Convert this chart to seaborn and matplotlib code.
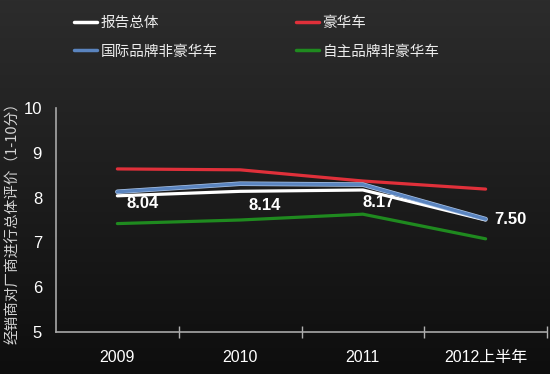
import numpy as np
import pandas as pd
import matplotlib
matplotlib.use("Agg")
import matplotlib.pyplot as plt
import matplotlib.patheffects as pe
import seaborn as sns
from matplotlib.lines import Line2D

categories = ["2009", "2010", "2011", "2012上半年"]
overall = [8.04, 8.14, 8.17, 7.50]
luxury = [8.64, 8.62, 8.37, 8.19]
intl_nonlux = [8.13, 8.31, 8.29, 7.52]
domestic_nonlux = [7.42, 7.50, 7.63, 7.08]
series_names = ["报告总体", "豪华车", "国际品牌非豪华车", "自主品牌非豪华车"]
label_values = overall
y_ticks = [5, 6, 7, 8, 9, 10]
y_label = "经销商对厂商进行总体评价（1-10分）"

sns.set_theme(style="dark")
cjk = ["Noto Sans CJK SC", "DejaVu Sans"]
num_cjk = ["Liberation Sans", "Noto Sans CJK SC"]
plt.rcParams["font.family"] = cjk

df = pd.DataFrame({
    "cat": categories * 4,
    "x": list(range(len(categories))) * 4,
    "value": overall + luxury + intl_nonlux + domestic_nonlux,
    "series": sum([[s] * len(categories) for s in series_names], []),
})

W, H = 550, 374
fig = plt.figure(figsize=(W / 100, H / 100), dpi=100)

# gradient background
bg = fig.add_axes([0, 0, 1, 1], zorder=-10)
grad = np.linspace(0, 1, 256).reshape(-1, 1)
top = np.array([0x2c, 0x2c, 0x2c]) / 255
bot = np.array([0x0e, 0x0e, 0x0e]) / 255
img = top[None, None, :] * (1 - grad[:, :, None]) + bot[None, None, :] * grad[:, :, None]
bg.imshow(img, aspect="auto", extent=[0, 1, 0, 1])
bg.set_axis_off()

ax = fig.add_axes([56 / W, 1 - 332 / H, (547 - 56) / W, (332 - 108) / H])
ax.set_facecolor("none")

palette = {
    "报告总体": "#ffffff",
    "豪华车": "#e0303a",
    "国际品牌非豪华车": "#5a84bf",
    "自主品牌非豪华车": "#1f8a1f",
}
draw_order = ["豪华车", "自主品牌非豪华车", "报告总体", "国际品牌非豪华车"]
for name in draw_order:
    sub = df[df["series"] == name]
    lw = 2.3
    effects = None
    if name == "国际品牌非豪华车":
        effects = [pe.Stroke(linewidth=3.3, foreground="#a9c3e6"), pe.Normal()]
    sns.lineplot(data=sub, x="x", y="value", color=palette[name], linewidth=lw,
                 ax=ax, legend=False, path_effects=effects)

ax.set_xlim(-0.5, len(categories) - 0.5)
ax.set_ylim(5, 10)
ax.set_yticks(y_ticks)
ax.set_yticklabels([str(t) for t in y_ticks], color="white", fontsize=12,
                   family="Liberation Sans")
ax.set_xticks(range(len(categories)))
ax.set_xticklabels(categories, color="white", fontsize=11.5, family=num_cjk)
ax.set_xticks(np.arange(0.5, len(categories), 1.0), minor=True)
ax.tick_params(axis="x", which="major", length=0, pad=13)
ax.tick_params(axis="x", which="minor", length=8, direction="inout",
               color="#b0b0b0", width=1, bottom=True)
ax.tick_params(axis="y", length=0, pad=10)
ax.set_xlabel("")
ax.set_ylabel(y_label, color="#d4d4d4", fontsize=10.5)
ax.yaxis.set_label_coords((20 - 56) / (547 - 56), 0.5)
ax.grid(False)
for s in ["top", "right"]:
    ax.spines[s].set_visible(False)
for s in ["left", "bottom"]:
    ax.spines[s].set_visible(True)
    ax.spines[s].set_color("#a8a8a8")
    ax.spines[s].set_linewidth(1.2)

offsets = [(9, -8), (8, -14), (0, -13), (9, 0)]
for i, v in enumerate(label_values):
    ax.annotate(f"{v:.2f}", (i, v), xytext=offsets[i], textcoords="offset pixels",
                ha="left", va="center", color="white", fontsize=12,
                fontweight="bold", family="Liberation Sans")

order = ["报告总体", "国际品牌非豪华车", "豪华车", "自主品牌非豪华车"]
handles = [Line2D([], [], color=palette[n], linewidth=2.5) for n in order]
leg = fig.legend(handles, order, ncol=2, loc="upper left",
                 bbox_to_anchor=(74 / W, 1 - 16 / H), frameon=False,
                 fontsize=10.5, handlelength=1.55, handletextpad=0.25,
                 columnspacing=5.4, labelspacing=1.0, borderpad=0,
                 borderaxespad=0)
for t in leg.get_texts():
    t.set_color("#ececec")

fig.savefig("out.png", dpi=100)
